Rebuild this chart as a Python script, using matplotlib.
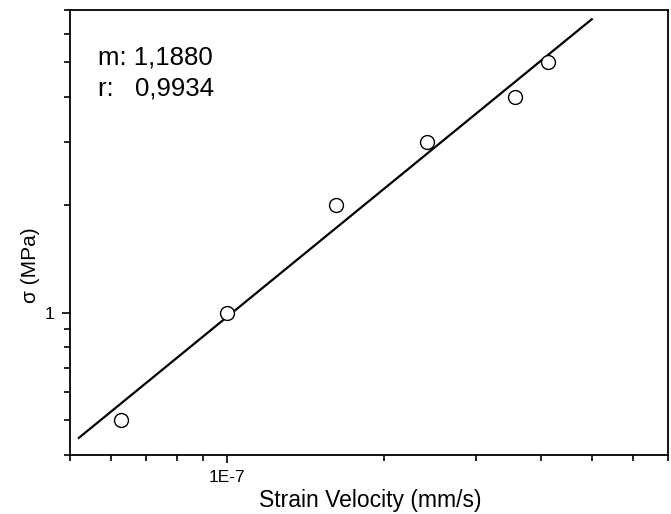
import numpy as np
import matplotlib
matplotlib.use("Agg")
import matplotlib.pyplot as plt
from matplotlib.ticker import LogLocator, NullFormatter, FixedLocator, FixedFormatter

plt.rcParams['font.family'] = ['Liberation Sans', 'DejaVu Sans']

# Data
strain_velocity = [6.26e-8, 1.0e-7, 1.62e-7, 2.42e-7, 3.56e-7, 4.12e-7]
stress = [0.5, 1.0, 2.0, 3.0, 4.0, 5.0]
fit_x_range = [5.2e-8, 5.0e-7]
slope_text = "m: 1,1880"
r_text = "r:   0,9934"

x_major = [1e-7]
x_major_labels = ["1E-7"]
y_major = [1.0]
y_major_labels = ["1"]

fig = plt.figure(figsize=(6.71, 5.14), dpi=100)
ax = fig.add_axes([70/671, 1 - 455/514, (668 - 70)/671, (455 - 10)/514])

# linear regression in log-log space
lx = np.log10(strain_velocity)
ly = np.log10(stress)
m, b = np.polyfit(lx, ly, 1)
fx = np.array(fit_x_range)
fy = 10 ** (m * np.log10(fx) + b)
ax.plot(fx, fy, color='black', lw=1.6, zorder=2)
ax.plot(strain_velocity, stress, 'o', mfc='white', mec='black', ms=10, mew=1.0, zorder=3)

ax.set_xscale('log')
ax.set_yscale('log')
ax.set_xlim(5e-8, 7e-7)
ax.set_ylim(0.4, 7)

ax.xaxis.set_major_locator(FixedLocator(x_major))
ax.xaxis.set_major_formatter(FixedFormatter(x_major_labels))
ax.xaxis.set_minor_locator(LogLocator(base=10, subs=np.arange(2, 10), numticks=20))
ax.xaxis.set_minor_formatter(NullFormatter())
ax.yaxis.set_major_locator(FixedLocator(y_major))
ax.yaxis.set_major_formatter(FixedFormatter(y_major_labels))
ax.yaxis.set_minor_locator(LogLocator(base=10, subs=np.arange(2, 10), numticks=20))
ax.yaxis.set_minor_formatter(NullFormatter())

ax.tick_params(which='major', direction='out', length=6, width=1.2, labelsize=12.5, pad=5)
ax.tick_params(which='minor', direction='out', length=4, width=1.2)
for s in ax.spines.values():
    s.set_linewidth(1.3)

fig.text(370/671, 1 - 500/514, "Strain Velocity (mm/s)", ha='center', va='center', fontsize=16.5)
fig.text(30/671, 1 - 265/514, "σ (MPa)", rotation=90, ha='center', va='center', fontsize=15)

fig.text(98/671, 1 - 58/514, slope_text, fontsize=18.5, ha='left', va='center')
fig.text(98/671, 1 - 88/514, r_text, fontsize=18.5, ha='left', va='center')

fig.savefig("out.png", dpi=100)
